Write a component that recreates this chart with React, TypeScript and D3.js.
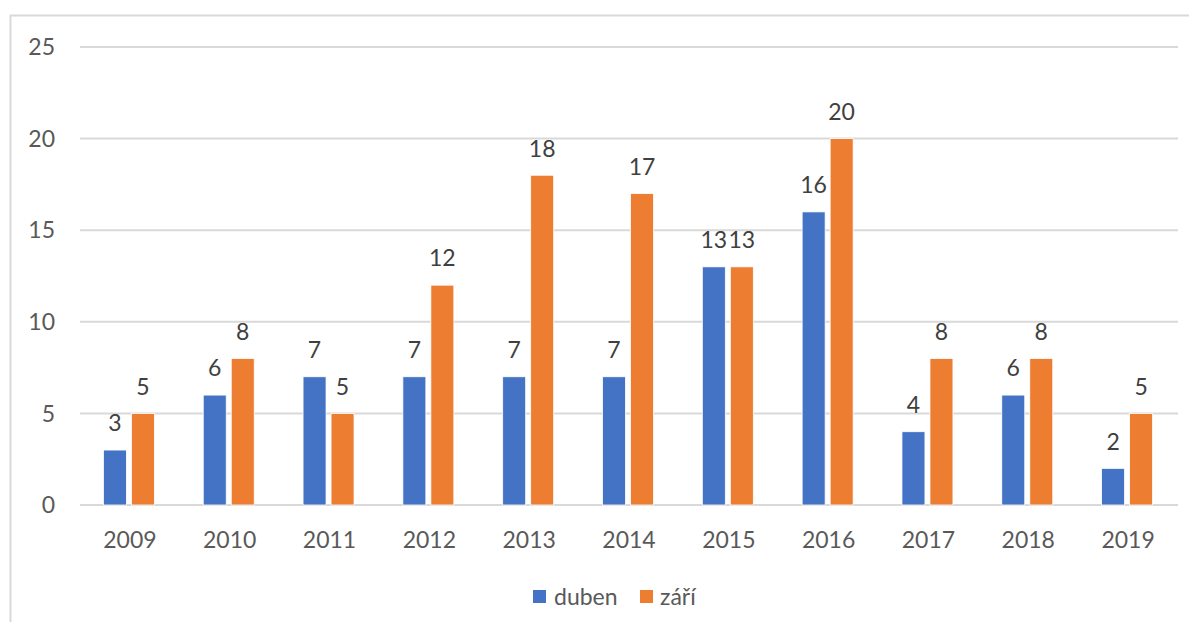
import React, { useEffect, useRef } from "react";
import * as d3 from "d3";

const years = ["2009", "2010", "2011", "2012", "2013", "2014", "2015", "2016", "2017", "2018", "2019"];
const duben = [3, 6, 7, 7, 7, 7, 13, 16, 4, 6, 2];
const zari = [5, 8, 5, 12, 18, 17, 13, 20, 8, 8, 5];
const seriesNames = ["duben", "září"];
const colors = ["#4472C4", "#ED7D31"];
const yTicks = [0, 5, 10, 15, 20, 25];

const W = 1197;
const H = 630;
const font = "Lato, 'Open Sans', sans-serif";
const fs = 23;

export default function App() {
  const ref = useRef<SVGSVGElement>(null);

  useEffect(() => {
    const svg = d3.select(ref.current);
    svg.selectAll("*").remove();

    const left = 80, right = 1178, top = 47, bottom = 505;
    const x = d3.scaleBand().domain(years).range([left, right]);
    const y = d3.scaleLinear().domain([0, 25]).range([bottom, top]);

    // frame (cut off on right and bottom)
    svg.append("rect")
      .attr("x", 10.5).attr("y", 15.5)
      .attr("width", W).attr("height", H)
      .attr("fill", "white").attr("stroke", "#d9d9d9").attr("stroke-width", 2);

    // gridlines
    svg.append("g").selectAll("line").data(yTicks).join("line")
      .attr("x1", left).attr("x2", right)
      .attr("y1", d => y(d)).attr("y2", d => y(d))
      .attr("stroke", "#d9d9d9").attr("stroke-width", 2);

    svg.append("g").selectAll("text").data(yTicks).join("text")
      .attr("x", 55).attr("y", d => y(d))
      .attr("dy", "0.36em").attr("text-anchor", "end")
      .attr("font-family", font).attr("font-size", fs).attr("fill", "#595959")
      .text(d => d);

    svg.append("g").selectAll("text").data(years).join("text")
      .attr("x", d => x(d)! + x.bandwidth() / 2).attr("y", 540)
      .attr("dy", "0.36em").attr("text-anchor", "middle")
      .attr("font-family", font).attr("font-size", fs).attr("fill", "#595959")
      .text(d => d);

    const barW = 23, gap = 5;
    const sub = d3.scaleOrdinal<number, number>().domain([0, 1])
      .range([-(barW + gap / 2) - 1, gap / 2 - 1]);

    [duben, zari].forEach((vals, si) => {
      const g = svg.append("g");
      g.selectAll("rect").data(vals).join("rect")
        .attr("x", (d, i) => x(years[i])! + x.bandwidth() / 2 + sub(si))
        .attr("y", d => y(d))
        .attr("width", barW)
        .attr("height", d => y(0) - y(d))
        .attr("fill", colors[si])
        .attr("stroke", "white").attr("stroke-width", 0.8);
      g.selectAll("text").data(vals).join("text")
        .attr("x", (d, i) => x(years[i])! + x.bandwidth() / 2 + sub(si) + barW / 2)
        .attr("y", d => y(d) - 27)
        .attr("dy", "0.36em")
        .attr("text-anchor", "middle")
        .attr("font-family", font).attr("font-size", fs).attr("fill", "#404040")
        .text(d => d);
    });

    // legend
    const legend = svg.append("g");
    const items = [{ x: 533, tx: 554 }, { x: 640, tx: 660 }];
    seriesNames.forEach((name, i) => {
      legend.append("rect")
        .attr("x", items[i].x).attr("y", 590)
        .attr("width", 13).attr("height", 13)
        .attr("fill", colors[i]);
      legend.append("text")
        .attr("x", items[i].tx).attr("y", 597)
        .attr("dy", "0.36em")
        .attr("font-family", font).attr("font-size", fs).attr("fill", "#595959")
        .text(name);
    });
  }, []);

  return (
    <svg ref={ref} width={W} height={H} style={{ display: "block", margin: -8, background: "white" }} />
  );
}
